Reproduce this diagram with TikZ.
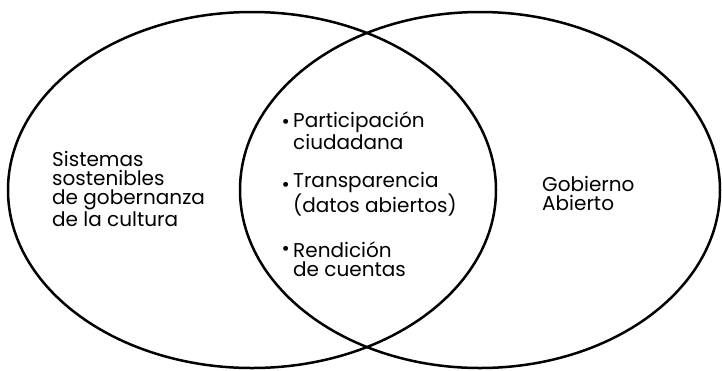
\documentclass[tikz,border=0pt]{standalone}
\usepackage{fontspec}
\setmainfont{Poppins}
\tikzset{
  circulo/.style={line width=2.5pt},
  texto/.style={anchor=base west, align=left, inner sep=0pt, font=\fontsize{20}{19}\selectfont},
  punto/.style={texto, anchor=base east}
}

\begin{document}
\begin{tikzpicture}[x=1pt,y=-1pt]
\useasboundingbox (0,0) rectangle (722,370);
\draw[circulo] (252,190) ellipse (244pt and 178pt);
\draw[circulo] (480,190) ellipse (240pt and 178pt);
% texto base: ultima linea
\node[texto] (sis) at (52,226) {Sistemas\\sostenibles\\de gobernanza\\de la cultura};
\node[texto] (gob) at (542,210) {Gobierno\\Abierto};
\foreach \y/\t [count=\i] in {149/{Participación\\ciudadana},
                               212/{Transparencia\\(datos abiertos)},
                               276/{Rendición\\de cuentas}}
  \node[texto] (item\i) at (293,\y) {\t};
\foreach \i in {1,2,3}
  \node[punto] (bul\i) at ([xshift=-3pt,yshift=21pt]item\i.base west) {\textbullet};
\end{tikzpicture}
\end{document}
